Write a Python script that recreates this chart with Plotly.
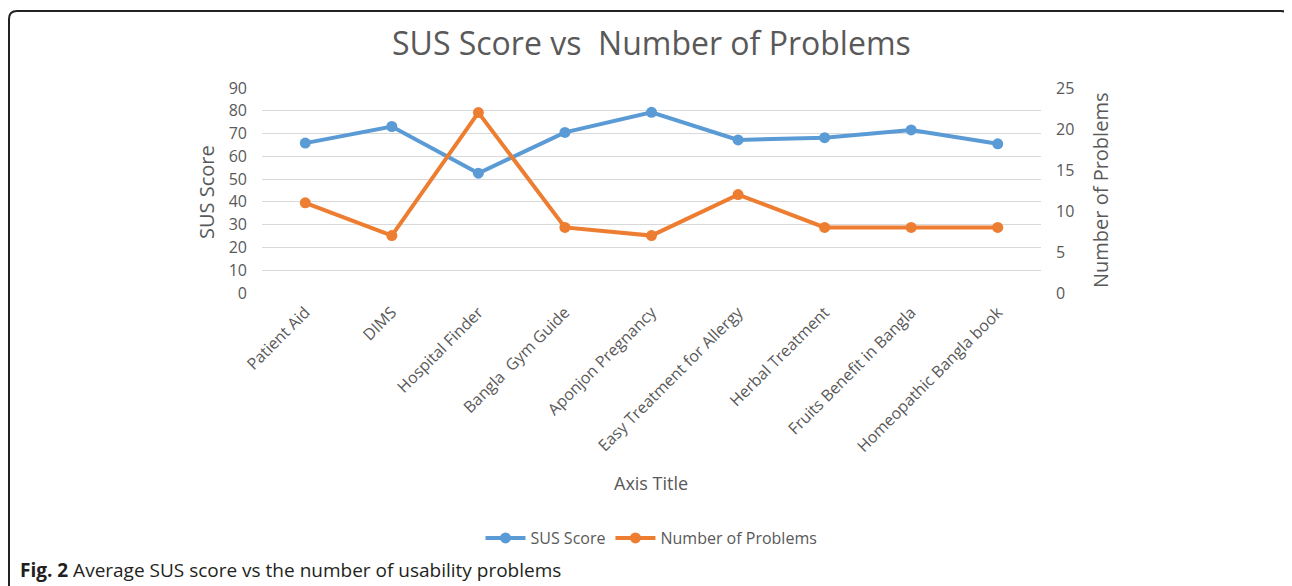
import plotly.graph_objects as go

categories = ["Patient Aid", "DIMS", "Hospital Finder", "Bangla  Gym Guide", "Aponjon Pregnancy",
              "Easy Treatment for Allergy", "Herbal Treatment", "Fruits Benefit in Bangla",
              "Homeopathic Bangla book"]
sus_score = [65.8, 73.1, 52.6, 70.5, 79.3, 67.2, 68.2, 71.6, 65.5]
num_problems = [11, 7, 22, 8, 7, 12, 8, 8, 8]
left_ticks = [0, 10, 20, 30, 40, 50, 60, 70, 80, 90]
right_ticks = [0, 5, 10, 15, 20, 25]

OFF = 8  # page body margin
W, H = 1292 - OFF, 586 - OFF
L, R, T, B = 262 - OFF, 1041 - OFF, 88 - OFF, 293 - OFF
PW, PH = R - L, B - T
FONT = "Open Sans, Liberation Sans, sans-serif"
GRAY = "#595959"


def px(x):
    return (x - OFF - L) / PW


def py(y):
    return (B - (y - OFF)) / PH


fig = go.Figure()
fig.add_trace(go.Scatter(x=categories, y=sus_score, name="SUS Score", mode="lines+markers",
                         line=dict(color="#5b9bd5", width=4), marker=dict(size=11, color="#5b9bd5"),
                         yaxis="y"))
fig.add_trace(go.Scatter(x=categories, y=num_problems, name="Number of Problems", mode="lines+markers",
                         line=dict(color="#ed7d31", width=4), marker=dict(size=11, color="#ed7d31"),
                         yaxis="y2"))

fig.update_layout(
    width=W, height=H,
    margin=dict(l=L, r=W - R, t=T, b=H - B),
    paper_bgcolor="white", plot_bgcolor="white",
    font=dict(family=FONT, color=GRAY),
    showlegend=True,
    legend=dict(orientation="h", x=0.5, xanchor="center", y=py(538), yanchor="middle",
                font=dict(size=16, color=GRAY), itemwidth=40, tracegroupgap=0),
    xaxis=dict(type="category", tickangle=-45, tickfont=dict(size=16, color=GRAY),
               showgrid=False, showline=False, ticks="", range=[-0.5, 8.5], ticklabelstandoff=6),
    yaxis=dict(range=[0, 90], tickvals=left_ticks, tickfont=dict(size=16, color=GRAY),
               showgrid=True, gridcolor="#d9d9d9", gridwidth=1.4, zeroline=False,
               showline=False, ticks="", ticklabelstandoff=14),
    yaxis2=dict(range=[0, 25], tickvals=right_ticks, overlaying="y", side="right",
                tickfont=dict(size=16, color=GRAY), showgrid=False, zeroline=False,
                showline=False, ticks="", ticklabelstandoff=14),
)

annotations = [
    dict(text="SUS Score vs  Number of Problems", x=px(651), y=py(42), xref="paper", yref="paper",
         showarrow=False, font=dict(size=32, color=GRAY, family=FONT), xanchor="center", yanchor="middle"),
    dict(text="SUS Score", x=px(206), y=py(192), xref="paper", yref="paper", textangle=-90,
         showarrow=False, font=dict(size=20, color=GRAY, family=FONT), xanchor="center", yanchor="middle"),
    dict(text="Number of Problems", x=px(1100), y=py(191), xref="paper", yref="paper", textangle=-90,
         showarrow=False, font=dict(size=20, color=GRAY, family=FONT), xanchor="center", yanchor="middle"),
    dict(text="Axis Title", x=px(651), y=py(483), xref="paper", yref="paper",
         showarrow=False, font=dict(size=18, color=GRAY, family=FONT), xanchor="center", yanchor="middle"),
    dict(text="<b>Fig. 2</b> Average SUS score vs the number of usability problems", x=px(18), y=py(570),
         xref="paper", yref="paper", showarrow=False, font=dict(size=19, color="#231f20", family=FONT),
         xanchor="left", yanchor="middle"),
]
fig.update_layout(annotations=annotations)

# rounded frame around the figure
r = 8
path = (f"M {px(9)},{py(620)} L {px(9)},{py(11 + r)} Q {px(9)},{py(11)} {px(9 + r)},{py(11)} "
        f"L {px(1289 - r)},{py(11)} Q {px(1289)},{py(11)} {px(1289)},{py(11 + r)} L {px(1289)},{py(620)}")
fig.add_shape(type="path", path=path, xref="paper", yref="paper", line=dict(color="#222222", width=2))

fig.write_html("out.html")
